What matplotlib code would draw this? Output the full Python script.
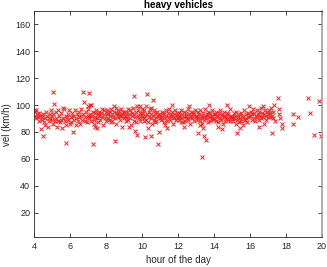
import matplotlib
matplotlib.use("Agg")
import matplotlib.pyplot as plt

# ---- data ----
hour = [
 4.00,4.02,4.05,4.08,4.12,4.15,4.20,4.24,4.28,4.33,4.37,4.40,4.45,4.50,4.55,4.58,4.62,4.66,4.70,4.75,4.80,4.84,4.88,4.92,4.96,4.99,
 5.03,5.06,5.10,5.14,5.18,5.22,5.25,5.30,5.34,5.38,5.42,5.46,5.50,5.54,5.58,5.62,5.66,5.70,5.74,5.78,5.82,5.86,5.90,5.94,5.98,
 6.02,6.06,6.10,6.14,6.18,6.22,6.26,6.30,6.34,6.38,6.42,6.46,6.50,6.54,6.58,6.62,6.66,6.70,6.76,6.80,6.84,6.88,6.92,6.96,6.99,
 7.01,7.04,7.08,7.12,7.15,7.18,7.22,7.26,7.30,7.33,7.36,7.40,7.44,7.48,7.52,7.55,7.58,7.62,7.66,7.70,7.74,7.78,7.82,7.86,7.90,7.94,7.97,7.50,7.35,7.10,
 8.02,8.05,8.09,8.12,8.16,8.20,8.23,8.27,8.30,8.34,8.38,8.41,8.45,8.50,8.53,8.57,8.60,8.64,8.68,8.72,8.75,8.79,8.83,8.86,8.90,8.94,8.97,8.25,8.55,8.85,
 9.02,9.05,9.09,9.12,9.16,9.20,9.23,9.27,9.30,9.34,9.38,9.41,9.45,9.49,9.53,9.56,9.60,9.64,9.67,9.71,9.75,9.78,9.82,9.86,9.90,9.93,9.97,9.25,9.62,9.88,
 10.02,10.05,10.09,10.12,10.16,10.20,10.24,10.28,10.32,10.36,10.40,10.44,10.48,10.52,10.56,10.60,10.64,10.68,10.72,10.76,10.80,10.84,10.88,10.92,10.96,10.99,10.30,10.70,10.50,10.10,
 11.02,11.06,11.10,11.13,11.17,11.20,11.24,11.28,11.32,11.35,11.39,11.43,11.47,11.50,11.54,11.58,11.62,11.66,11.70,11.73,11.77,11.80,11.84,11.88,11.92,11.96,11.99,11.40,11.65,11.25,
 12.01,12.05,12.08,12.12,12.15,12.19,12.23,12.27,12.31,12.34,12.38,12.42,12.46,12.49,12.53,12.57,12.61,12.65,12.69,12.72,12.76,12.80,12.84,12.87,12.91,12.95,12.98,12.35,12.62,12.18,
 13.02,13.05,13.09,13.12,13.16,13.20,13.24,13.27,13.31,13.35,13.38,13.42,13.46,13.50,13.53,13.57,13.61,13.65,13.68,13.72,13.76,13.80,13.83,13.87,13.91,13.95,13.98,13.40,13.70,13.22,
 14.02,14.05,14.09,14.12,14.16,14.20,14.23,14.27,14.31,14.34,14.38,14.42,14.46,14.49,14.53,14.57,14.61,14.64,14.68,14.72,14.76,14.79,14.83,14.87,14.91,14.94,14.98,14.45,14.70,14.25,
 15.02,15.06,15.10,15.13,15.17,15.21,15.25,15.29,15.33,15.37,15.40,15.44,15.48,15.52,15.56,15.60,15.64,15.68,15.72,15.76,15.80,15.84,15.88,15.92,15.96,15.45,15.75,15.99,
 16.02,16.06,16.10,16.13,16.17,16.21,16.25,16.29,16.33,16.37,16.40,16.44,16.48,16.52,16.56,16.60,16.64,16.68,16.72,16.76,16.80,16.84,16.88,16.92,16.96,16.50,16.75,16.99,
 17.02,17.06,17.10,17.14,17.18,17.22,17.26,17.30,17.34,17.38,
 17.55,17.60,17.60,17.65,17.79,17.80,18.39,18.67,18.40,19.24,19.37,19.87,19.57,19.97,
 5.02,6.73,7.03,9.55,10.27,10.63,
 4.48,5.78,7.27,8.48,9.70,10.15,10.48,10.90,13.34,13.45,13.54,13.10,15.27,17.22,
]
speed = [
 96,95,92,96,90,93,91,88,94,92,82.5,89,91,93,87,90,85,95,92,84,90,88,93,96,91,89,
 86,93,101,88,95,90,84,96,88,92,87,89,94,83,90,98,97,88,92,85,91,89,93,96,86,
 91,87,94,80,92,89,96,90,85,93,88,91,95,86,92,97,89,93,102,88,91,95,87,99,92,
 97,90,100,93,88,100,92,95,89,86,94,91,96,90,93,87,92,95,89,94,91,97,85,93,96,90,88,83,84,92,
 93,96,90,94,89,95,92,97,88,93,91,95,99,90,94,86,93,96,91,94,89,92,97,84,93,95,90,87,98,92,
 92,95,88,94,91,97,89,93,96,90,85,94,92,98,88,93,91,95,87,99,92,96,90,94,88,93,97,84,81,99,
 91,94,88,96,92,89,99,93,87,95,91,97,90,93,86,92,96,89,94,91,88,95,92,80,93,90,83,87,98,90,
 92,89,95,91,94,87,93,90,96,92,88,94,91,97,89,93,92,95,90,86,93,91,96,89,94,92,90,83,100,85,
 91,94,89,92,96,90,93,87,95,91,88,94,92,90,97,89,93,91,86,95,92,90,94,88,93,96,91,84,99,87,
 92,89,95,91,93,88,96,90,92,86,94,91,89,97,92,90,93,87,95,91,88,94,92,90,96,89,93,83,100,85,
 90,93,88,95,91,92,87,94,90,96,89,92,93,86,91,95,88,92,90,94,89,93,91,97,88,92,90,82,100,84,
 91,88,94,90,92,86,95,89,91,93,87,90,94,88,92,85,91,96,89,93,90,87,94,91,99,83,89,92,
 92,95,89,93,97,90,94,88,92,96,91,93,89,95,92,98,90,94,91,86,93,96,92,89,95,84,99,91,
 93,96,91,94,98,92,95,90,100,88,
 105,97,93,90,85.5,83,93,91,86,105,94,103,77.5,77,
 110,110,109,107,108,104,
 77,71.5,71,73,77.8,76,77,71,61,77,74.3,79,79,79,
]

xticks = [4, 6, 8, 10, 12, 14, 16, 18, 20]
yticks = [20, 40, 60, 80, 100, 120, 140, 160]

plt.rcParams['font.family'] = ['Liberation Sans', 'DejaVu Sans']
fig = plt.figure(figsize=(3.27, 2.67), dpi=100)
ax = fig.add_axes([0.105, 0.111, 0.879, 0.848])
ax.plot(hour, speed, linestyle='none', marker='x', color='#ff1a1a',
        markersize=3.3, markeredgewidth=0.7)
ax.set_xlim(4, 20)
ax.set_ylim(1.5, 170)
ax.set_xticks(xticks)
ax.set_yticks(yticks)
ax.tick_params(direction='in', top=True, right=True, length=3, width=0.6,
               labelsize=6.5, colors='#262626', pad=3)
for s in ax.spines.values():
    s.set_color('#262626')
    s.set_linewidth(0.6)
ax.spines['right'].set_color('#a0a0a0')
ax.spines['right'].set_linewidth(1.2)
ax.set_xlabel('hour of the day', fontsize=7, color='#262626', labelpad=3.5)
ax.set_ylabel('vel (km/h)', fontsize=7, color='#262626', labelpad=2.5)
ax.set_title('heavy vehicles', fontsize=7, fontweight='bold', color='black', pad=2)
fig.savefig('out.png', dpi=100)
